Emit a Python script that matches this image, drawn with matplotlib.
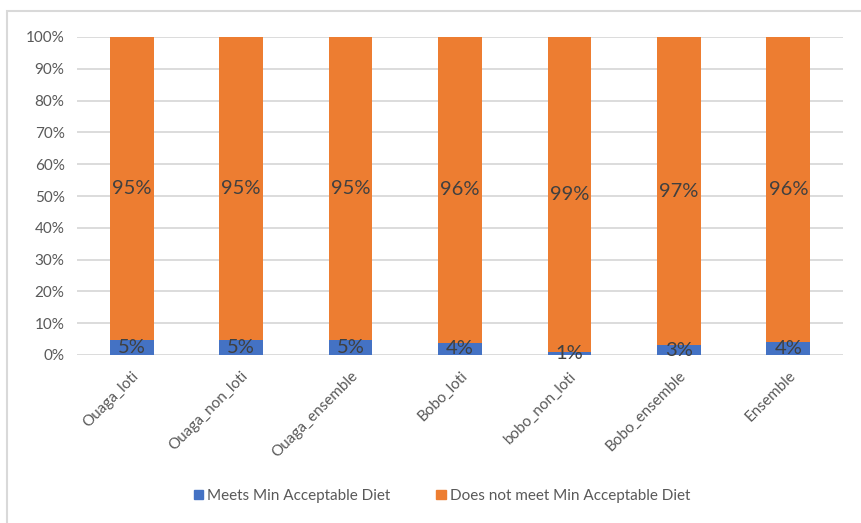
import matplotlib
matplotlib.use("Agg")
import matplotlib.pyplot as plt
from matplotlib.patches import Rectangle, Patch
import numpy as np

plt.rcParams['font.family'] = ['Lato', 'DejaVu Sans']

categories = ["Ouaga_loti", "Ouaga_non_loti", "Ouaga_ensemble", "Bobo_loti",
              "bobo_non_loti", "Bobo_ensemble", "Ensemble"]
meets = [4.6, 4.6, 4.6, 3.9, 1.0, 3.1, 4.2]
not_meets = [100 - v for v in meets]
series_names = ["Meets Min Acceptable Diet", "Does not meet Min Acceptable Diet"]
yticks = list(range(0, 101, 10))

BLUE = "#4472C4"
ORANGE = "#ED7D31"
GRID = "#D9D9D9"
TICK_COLOR = "#595959"
LABEL_COLOR = "#404040"

W, H = 861, 523
fig = plt.figure(figsize=(W / 100, H / 100), dpi=100)

# chart frame
fig.patches.append(Rectangle((7 / W, -0.05), 1.1, 1 - 11 / H + 0.05,
                             transform=fig.transFigure, fill=False,
                             edgecolor=GRID, linewidth=1.5, zorder=0))

ax = fig.add_axes([77 / W, 1 - 355 / H, (843 - 77) / W, (355 - 37) / H])
x = np.arange(len(categories))
width = 0.4

ax.bar(x, meets, width, color=BLUE, label=series_names[0], zorder=3)
ax.bar(x, not_meets, width, bottom=meets, color=ORANGE,
       label=series_names[1], zorder=3)

for xi, m, n in zip(x, meets, not_meets):
    ax.text(xi, m / 2, f"{m:.0f}%", ha="center", va="center",
            fontsize=14.5, color=LABEL_COLOR, zorder=4)
    ax.text(xi, m + n / 2, f"{n:.0f}%", ha="center", va="center",
            fontsize=14.5, color=LABEL_COLOR, zorder=4)

ax.set_xlim(-0.5, len(categories) - 0.5)
ax.set_ylim(0, 100)
ax.set_yticks(yticks)
ax.set_yticklabels([f"{t}%" for t in yticks], fontsize=11, color=TICK_COLOR)
ax.set_xticks(x)
ax.set_xticklabels(categories, rotation=45, ha="right", rotation_mode="anchor",
                   fontsize=11, color=TICK_COLOR)
ax.tick_params(axis="both", length=0)
ax.tick_params(axis="y", pad=9)
ax.tick_params(axis="x", pad=10)
ax.yaxis.grid(True, color=GRID, linewidth=1.3, zorder=0)
ax.set_axisbelow(True)
for s in ax.spines.values():
    s.set_visible(False)

handles = [Patch(color=BLUE), Patch(color=ORANGE)]
fig.legend(handles, series_names, loc="center", bbox_to_anchor=(442 / W, 1 - 496 / H),
           ncol=2, frameon=False, fontsize=11, labelcolor=TICK_COLOR,
           handlelength=0.6, handleheight=0.6, handletextpad=0.3, columnspacing=3.0)

fig.savefig("out.png", dpi=100)
